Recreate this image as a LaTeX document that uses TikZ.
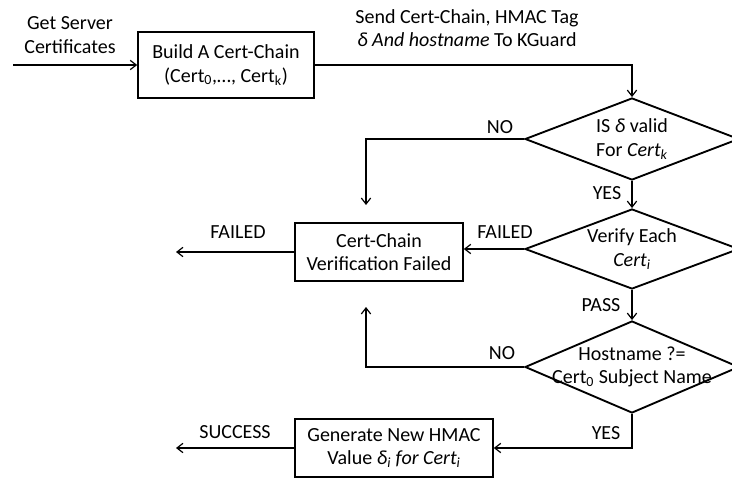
\documentclass[tikz,border=0pt]{standalone}
\usepackage{fontspec}
\setmainfont{Carlito}
\usetikzlibrary{shapes.geometric,arrows.meta}

\def\diamw{160.5pt}

\begin{document}
\begin{tikzpicture}[x=0.75pt, y=-0.75pt, >={Straight Barb[length=4.5pt,width=7pt]},
        font=\fontsize{15}{17.5}\selectfont]
        \tikzstyle{edge}=[->,line width=0.9pt]
        \tikzstyle{block}=[rectangle,draw,line width=1.2pt,align=center,inner sep=0pt,minimum height=43.5pt]
        \tikzstyle{check}=[diamond,draw,line width=1.4pt,align=center,aspect=2.5,inner sep=-10pt,minimum width=\diamw]
        \tikzstyle{annot}=[align=center,inner sep=0pt]

        \useasboundingbox (0,0) rectangle (732,478);

        \node[block, minimum width=132pt, minimum height=49.5pt] (C) at (226,65) {Build A Cert-Chain\\(Cert\textsubscript{0},…, Cert\textsubscript{k})};

        \node[check, minimum height=61.5pt] (V-1) at (632,139) {IS \textit{δ} valid\\For \textit{Cert\textsubscript{k}}};
        \node[check, minimum height=60pt] (V-2) at (632,249) {Verify Each\\\textit{Cert\textsubscript{i}}};
        \node[check, minimum height=69pt] (V-3) at (632,367) {Hostname ?=\\Cert\textsubscript{0} Subject Name};

        \node[block, minimum width=126pt] (F) at (379,252) {Cert-Chain\\Verification Failed};
        \node[block, minimum width=148.5pt] (G) at (394,448) {Generate New HMAC\\Value \textit{δ\textsubscript{i} for Cert\textsubscript{i}}};

        \node[annot] (get) at (70,35) {Get Server\\Certificates};
        \node[annot] (send) at (467,28) {Send Cert-Chain, HMAC Tag\\\textit{δ And hostname} To KGuard};
        \node[annot] (no-1) at (500,127) {NO};
        \node[annot] (yes-1) at (607,193) {YES};
        \node[annot] (fail-1) at (505,232) {FAILED};
        \node[annot] (fail-2) at (238,232) {FAILED};
        \node[annot] (pass) at (601,305) {PASS};
        \node[annot] (no-2) at (502,353) {NO};
        \node[annot] (yes-2) at (606,433) {YES};
        \node[annot] (succ) at (235,432) {SUCCESS};

        \coordinate (in) at (13,65);
        \coordinate (n-1) at (366,205);
        \coordinate (n-2) at (366,307);
        \coordinate (out-F) at (176,252);
        \coordinate (out-S) at (176,448);

        \path[edge]
            (in) edge (C.west)
            (V-1) edge (V-2)
            (V-2) edge (V-3)
            (V-2.west) edge (V-2.west -| F.east)
            (F.west) edge (out-F)
            (G.west) edge (out-S)
        ;
        \draw[edge] (C.east) -| (V-1.north);
        \draw[edge] (V-1.west) -| (n-1);
        \draw[edge] (V-3.west) -| (n-2);
        \draw[edge] (V-3.south) |- (G.east);
    \end{tikzpicture}
\end{document}
